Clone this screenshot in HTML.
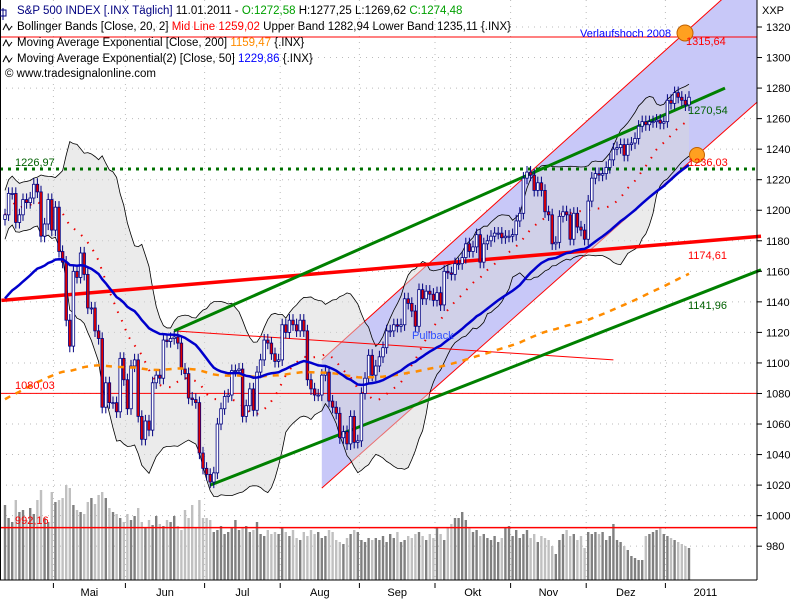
<!DOCTYPE html>
<html><head><meta charset="utf-8">
<style>
body{margin:0;background:#fff;}
svg{display:block;font-family:"Liberation Sans",sans-serif;}
</style></head>
<body>
<svg id="chart" width="800" height="600" viewBox="0 0 800 600">
<rect x="0" y="0" width="800" height="600" fill="#fff"/>
<g id="grid"></g>
<g id="vol"></g>
<g id="channel"></g>
<g id="boll"></g>
<g id="lines"></g>
<g id="candles"></g>
<g id="ema"></g>
<g id="ann"></g>
<g id="axes"></g>
<g font-size="11.5">
<text x="17" y="14" fill="#000080">S&amp;P 500 INDEX [.INX  Täglich] <tspan fill="#000">11.01.2011 - </tspan><tspan fill="#00a000">O:1272,58</tspan><tspan fill="#000"> H:1277,25 L:1269,62 </tspan><tspan fill="#00a000">C:1274,48</tspan></text>
<text x="17" y="30" fill="#000">Bollinger Bands [Close, 20, 2] <tspan fill="#f00">Mid Line 1259,02</tspan> Upper Band 1282,94 Lower Band 1235,11 {.INX}</text>
<text x="17" y="46" fill="#000">Moving Average Exponential [Close, 200] <tspan fill="#ff8c00">1159,47</tspan> {.INX}</text>
<text x="17" y="62" fill="#000">Moving Average Exponential(2) [Close, 50] <tspan fill="#0000ff">1229,86</tspan> {.INX}</text>
<text x="5" y="77" fill="#000">© www.tradesignalonline.com</text>
<path d="M3 8 v12 M0 10 h6 v6 h-6z" stroke="#000080" fill="none"/>
<path d="M3 30 l3 -6 l3 6 l3 -4 M3 46 l3 -6 l3 6 l3 -4 M3 62 l3 -6 l3 6 l3 -4" stroke="#000" fill="none"/>
</g>
</svg>
<script>
const NS="http://www.w3.org/2000/svg";
// ---- data ----
const closes=[1197,1211,1211,1192,1197,1207,1205,1208,1217,1212,1183,1191,1207,1187,
1202,1173,1166,1128,1111,1160,1156,1172,1158,1136,1136,1121,1116,1071,1087,1074,1074,1068,1103,1089,
1070,1098,1102,1065,1050,1062,1056,1087,1092,1090,1115,1114,1116,1117,1113,1096,1093,1077,1076,1074,1041,1031,
1027,1022,1028,1060,1070,1078,1079,1095,1095,1096,1065,1072,1083,1069,1094,1102,1115,1113,1106,1101,1102,
1125,1120,1128,1125,1121,1128,1121,1089,1083,1079,1079,1092,1094,1075,1071,1067,1051,1055,1047,1065,1048,1049,
1080,1090,1105,1092,1098,1104,1110,1121,1121,1125,1124,1125,1142,1139,1134,1124,1148,1142,1147,1145,1141,
1146,1138,1160,1159,1158,1165,1165,1169,1178,1173,1176,1184,1166,1178,1180,1183,1185,1185,1182,1183,1183,
1184,1193,1198,1221,1225,1223,1213,1218,1213,1199,1197,1178,1179,1196,1199,1197,1181,1198,1189,1187,1181,
1206,1221,1224,1223,1224,1228,1233,1240,1241,1243,1236,1243,1244,1247,1255,1258,1256,1258,1258,1259,1257,1258,
1272,1270,1277,1274,1272,1269,1274];
const volumes=[75,62,58,80,68,70,60,72,66,80,90,62,58,88,
78,80,82,95,92,75,70,68,66,78,82,76,85,88,82,72,68,66,62,58,
66,60,64,72,58,52,60,55,64,56,54,60,58,64,54,50,70,62,75,52,80,62,
62,60,48,50,54,46,48,52,60,50,52,54,48,50,58,46,44,50,46,48,46,
52,48,44,50,42,40,48,44,50,46,48,42,44,50,48,40,38,36,42,46,50,48,
40,38,42,40,42,40,44,38,46,42,48,38,40,44,42,46,48,44,40,46,42,
52,46,40,52,56,62,62,68,60,52,48,50,44,46,42,40,44,38,42,52,54,
44,50,42,46,50,42,46,38,44,42,40,34,26,40,46,50,44,46,40,44,32,
48,46,48,46,48,40,44,56,40,38,34,30,24,22,20,20,44,46,48,50,52,46,
44,42,40,38,36,34,32];
const yTicks=[980,1000,1020,1040,1060,1080,1100,1120,1140,1160,1180,1200,1220,1240,1260,1280,1300,1320];
const monthLabels=["Mai","Jun","Jul","Aug","Sep","Okt","Nov","Dez","2011"];
const monthStartIdx=[14,34,56,77,99,120,141,162,184];
const hLevels=[1315.64,1226.97,1080.03,992.16];
// trend lines: [idx1,val1,idx2,val2]
const greenUpper=[47,1121,200,1280];
const greenLower=[57,1020,210,1161];
const redThick=[-1,1141,210,1183];
const redThin=[47,1121,169,1102];
const channelUpper=[88,1102,209,1359];
const channelLower=[88,1018,209,1271];
// ---- axes ----
const X0=5,DX=3.6,Y0=27,KY=1.527,RIGHT=757,BOTTOM=580;
const xs=i=>X0+i*DX;
const ys=v=>Y0+(1320-v)*KY;
function el(tag,attrs,parent,name){const e=document.createElementNS(NS,tag);for(const k in attrs)e.setAttribute(k,attrs[k]);


parent.appendChild(e);return e;}
const G=id=>document.getElementById(id);
// grid
yTicks.forEach(v=>{el('line',{x1:0,x2:RIGHT,y1:ys(v),y2:ys(v),stroke:'#bbb','stroke-dasharray':'1,5'},G('grid'),'grid-line-y');});
monthStartIdx.forEach(i=>{const x=xs(i)-2;el('line',{x1:x,x2:x,y1:0,y2:BOTTOM,stroke:'#bbb','stroke-dasharray':'1,5'},G('grid'),'grid-line-x');});
// volume
const opens=closes.map((c,i)=>i?closes[i-1]:c-3);
volumes.forEach((v,i)=>{const up=closes[i]>=opens[i];
el('rect',{x:xs(i)-1.2,y:BOTTOM-v,width:2.4,height:v,fill:up?'#808080':'#c0c0c0'},G('vol'),'volume-bar');});
// channel
function pt(l,i){return [xs(i),ys(l[1]+(l[3]-l[1])*(i-l[0])/(l[2]-l[0]))];}
{const a=pt(channelUpper,channelUpper[0]),b=pt(channelUpper,channelUpper[2]),c=pt(channelLower,channelLower[2]),d=pt(channelLower,channelLower[0]);
el('polygon',{points:[a,b,c,d].map(p=>p.join(',')).join(' '),fill:'#c8c8f8'},G('channel'),'channel-fill');
el('line',{x1:a[0],y1:a[1],x2:b[0],y2:b[1],stroke:'#f00','stroke-width':1},G('channel'),'channel-upper-line');
el('line',{x1:d[0],y1:d[1],x2:c[0],y2:c[1],stroke:'#f00','stroke-width':1},G('channel'),'channel-lower-line');}
// bollinger
const mid=[],up=[],lo=[];
closes.forEach((c,i)=>{const s=closes.slice(Math.max(0,i-19),i+1);const m=s.reduce((a,b)=>a+b,0)/s.length;
const sd=Math.sqrt(s.reduce((a,b)=>a+(b-m)*(b-m),0)/s.length);mid.push(m);up.push(m+2*Math.max(sd,8));lo.push(m-2*Math.max(sd,8));});
{const top=up.map((v,i)=>xs(i)+','+ys(v));const bot=lo.map((v,i)=>xs(i)+','+ys(v)).reverse();
el('polygon',{points:top.concat(bot).join(' '),fill:'#d8d8d8','fill-opacity':0.5},G('boll'),'bollinger-fill');
el('polyline',{points:top.join(' '),fill:'none',stroke:'#000','stroke-width':0.8},G('boll'),'bollinger-upper');
el('polyline',{points:bot.join(' '),fill:'none',stroke:'#000','stroke-width':0.8},G('boll'),'bollinger-lower');
el('polyline',{points:mid.map((v,i)=>xs(i)+','+ys(v)).join(' '),fill:'none',stroke:'#e00','stroke-width':2,'stroke-dasharray':'1.5,8'},G('boll'),'bollinger-mid');}
// horizontal levels
el('line',{x1:0,x2:RIGHT,y1:37,y2:37,stroke:'#f00'},G('lines'),'level-verlaufshoch');
el('line',{x1:0,x2:RIGHT,y1:ys(hLevels[1]),y2:ys(hLevels[1]),stroke:'#007000','stroke-width':3,'stroke-dasharray':'3,5'},G('lines'),'level-1226');
el('line',{x1:0,x2:RIGHT,y1:ys(hLevels[2]),y2:ys(hLevels[2]),stroke:'#f00'},G('lines'),'level-1080');
el('line',{x1:0,x2:RIGHT,y1:ys(hLevels[3]),y2:ys(hLevels[3]),stroke:'#f00','stroke-width':1.5},G('lines'),'level-992');
function seg(l,color,w,name){const a=pt(l,l[0]),b=pt(l,l[2]);el('line',{x1:a[0],y1:a[1],x2:b[0],y2:b[1],stroke:color,'stroke-width':w},G('lines'),name);}
seg(redThin,'#f00',1,'red-thin-trend');
seg(redThick,'#f00',3.5,'red-thick-trend');
seg(greenUpper,'#008000',3,'green-upper-trend');
seg(greenLower,'#008000',3,'green-lower-trend');
// candles
closes.forEach((c,i)=>{const o=opens[i];const h=Math.max(o,c)+4,l=Math.min(o,c)-4;const x=xs(i);
el('line',{x1:x,x2:x,y1:ys(h),y2:ys(l),stroke:'#000080','stroke-width':1},G('candles'),'candle-wick');
const t=ys(Math.max(o,c)),b=ys(Math.min(o,c));
el('rect',{x:x-1.3,y:t,width:2.6,height:Math.max(1,b-t),fill:c>=o?'#fff':'#e00000',stroke:'#000080','stroke-width':0.8},G('candles'),'candle-body');});
// EMAs
function ema(n,seed){let e=seed;const r=[];const a=2/(n+1);closes.forEach(c=>{e=e+a*(c-e);r.push(e);});return r;}
const e200=ema(200,1075),e50=ema(50,1140);
el('polyline',{points:e200.map((v,i)=>xs(i)+','+ys(v)).join(' '),fill:'none',stroke:'#ff8c00','stroke-width':2.5,'stroke-dasharray':'6,6'},G('ema'),'ema200-line');
el('polyline',{points:e50.map((v,i)=>xs(i)+','+ys(v)).join(' '),fill:'none',stroke:'#0000cc','stroke-width':2.5},G('ema'),'ema50-line');
// annotations
function txt(x,y,s,c,name){const t=el('text',{x:x,y:y,fill:c,'font-size':11},G('ann'),name);t.textContent=s;}
el('circle',{cx:685,cy:33,r:8,fill:'#ffa020',stroke:'#c06000'},G('ann'),'marker-high');
el('circle',{cx:697,cy:155,r:7.5,fill:'#ffa020',stroke:'#c06000'},G('ann'),'marker-1236');
txt(580,37,'Verlaufshoch 2008','#0000ff','label-verlaufshoch');
txt(686,45,'1315,64','#f00','label-1315');
txt(688,114,'1270,54','#006000','label-1270');
txt(688,166,'1236,03','#f00','label-1236');
txt(15,166,'1226,97','#006000','label-1226');
txt(688,259,'1174,61','#f00','label-1174');
txt(688,309,'1141,96','#006000','label-1141');
txt(15,389,'1080,03','#f00','label-1080');
txt(15,524,'992,16','#f00','label-992');
txt(412,339,'Pullback','#3050ff','label-pullback');
// axes
el('line',{x1:RIGHT,x2:RIGHT,y1:0,y2:BOTTOM,stroke:'#000'},G('axes'),'y-axis-line');
el('line',{x1:0,x2:RIGHT,y1:BOTTOM,y2:BOTTOM,stroke:'#000'},G('axes'),'x-axis-line');
el('line',{x1:0.5,x2:0.5,y1:0,y2:BOTTOM,stroke:'#000'},G('axes'),'left-border');
{const t=el('text',{x:762,y:14,'font-size':11,fill:'#000'},G('axes'),'y-axis-unit');t.textContent='XXP';}
yTicks.forEach(v=>{el('line',{x1:RIGHT,x2:RIGHT+5,y1:ys(v),y2:ys(v),stroke:'#000'},G('axes'),'y-tick');
const t=el('text',{x:766,y:ys(v)+4,'font-size':11,fill:'#000'},G('axes'),'y-tick-label');t.textContent=v;});
monthStartIdx.forEach((i,k)=>{const x=xs(i)-2;el('line',{x1:x,x2:x,y1:BOTTOM+3,y2:BOTTOM+8,stroke:'#000'},G('axes'),'x-tick');
const nx=k<monthStartIdx.length-1?xs(monthStartIdx[k+1])-2:x+80;
const t=el('text',{x:(x+nx)/2,y:596,'font-size':11,fill:'#000','text-anchor':'middle'},G('axes'),'x-tick-label');t.textContent=monthLabels[k];});
</script>
</body></html>
